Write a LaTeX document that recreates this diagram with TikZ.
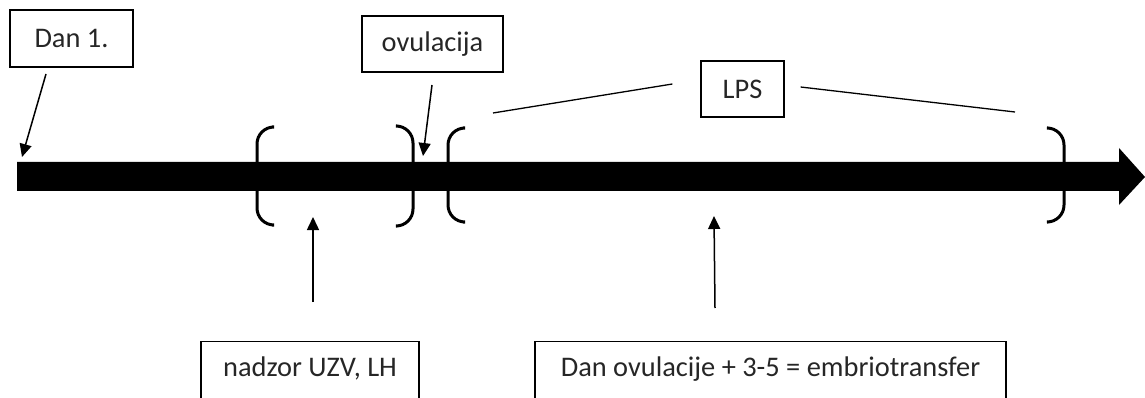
\documentclass[tikz,border=0pt]{standalone}
\usepackage{fontspec}
\setmainfont{Carlito}
\usetikzlibrary{arrows.meta, positioning, calc}

\begin{document}
\begin{tikzpicture}[x=1pt, y=-1pt]
    % --- Style Definitions ---
    \tikzset{
        % Text boxes
        label box/.style={
            draw=black,
            line width=1.2pt,
            font=\fontsize{28.4}{34}\selectfont,
            text=black!85,
            inner sep=0pt
        },
        % Boxes cut off by the lower edge
        open box/.style={
            label box,
            anchor=north,
            text height=35pt,
            text depth=60pt
        },
        % Time line
        time bar/.style={fill=black},
        % Brackets on the time line
        bracket line/.style={
            draw=black,
            line width=3pt,
            rounded corners=17pt
        },
        % Thin arrows
        pointer/.style={
            -{Triangle[length=13pt, width=12pt]},
            line width=1.5pt
        },
        % Lines from LPS
        span line/.style={line width=1.3pt}
    }

    \path[use as bounding box, clip] (0,0) rectangle (1145,398);

    % ==========================================
    % TIME LINE
    % ==========================================
    \fill[time bar] (17,162) -- (1119,162) -- (1119,148) -- (1145,177)
        -- (1119,205) -- (1119,191) -- (17,191) -- cycle;

    % Brackets
    \draw[bracket line] (272,127) -| (257,176) |- (272,225);
    \draw[bracket line] (397,126) -| (413,176) |- (397,226);
    \draw[bracket line] (463,128) -| (448,176) |- (463,222);
    \draw[bracket line] (1048,128) -| (1064,176) |- (1048,222);

    % ==========================================
    % LABELS
    % ==========================================
    \node[label box, minimum width=123pt, minimum height=57pt] (day_one) at (71.5,38.5) {Dan 1.};
    \node[label box, minimum width=141pt, minimum height=56pt] (ovulation) at (432.5,44) {ovulacija};
    \node[label box, minimum width=83pt, minimum height=56pt] (lps) at (742.5,89) {LPS};
    \node[open box, minimum width=218pt] (monitoring) at (310,341) {nadzor UZV, LH};
    \node[open box, minimum width=471pt] (transfer) at (770.5,341) {Dan ovulacije + 3-5 = embriotransfer};

    % ==========================================
    % CONNECTORS
    % ==========================================
    \coordinate (day_tail) at (46,74);
    \coordinate (day_tip) at (22,157);
    \draw[pointer] (day_tail) -- (day_tip);

    \coordinate (ov_tail) at (432,85);
    \coordinate (ov_tip) at (423,156);
    \draw[pointer] (ov_tail) -- (ov_tip);

    \coordinate (mon_tail) at (313,302);
    \coordinate (mon_tip) at (313,217);
    \draw[pointer] (mon_tail) -- (mon_tip);

    \coordinate (tr_tail) at (715,308);
    \coordinate (tr_tip) at (714,216);
    \draw[pointer] (tr_tail) -- (tr_tip);

    % LPS span
    \coordinate (lps_left) at (493,113);
    \coordinate (lps_right) at (1015,112);
    \draw[span line] (lps_left) -- ($(lps.west)+(-28,-5)$);
    \draw[span line] ($(lps.east)+(16,-2)$) -- (lps_right);

\end{tikzpicture}
\end{document}
